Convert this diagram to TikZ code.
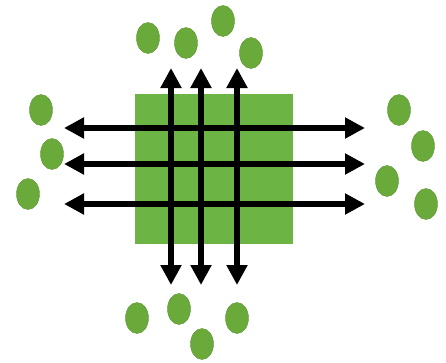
\documentclass[tikz,border=0pt]{standalone}
\usetikzlibrary{shapes.geometric, arrows.meta}
\definecolor{dotgreen}{RGB}{106,170,58}
\definecolor{dotedge}{RGB}{92,150,50}
\definecolor{blockgreen}{RGB}{108,180,68}
\tikzset{
  % scattered particle
  dot/.style={
    ellipse, minimum width=1.15cm, minimum height=1.55cm, inner sep=0pt,
    fill=dotgreen, draw=dotedge, line width=0.6pt
  },
  % central block
  block/.style={
    rectangle, minimum width=7.9cm, minimum height=7.5cm, inner sep=0pt,
    fill=blockgreen, draw=none
  },
  bothway/.style={{Triangle[length=1.0cm, width=1.0cm]}-{Triangle[length=1.0cm, width=1.0cm]},
    line width=0.28cm, black}
}
\begin{document}
\begin{tikzpicture}[x=0.05cm, y=-0.05cm]
  \useasboundingbox (0,0) rectangle (446,362);

  % central block
  \node[block] (core) at (214,169) {};

  % --- particles above ---
  \node[dot] (t1) at (148,38) {};
  \node[dot] (t2) at (186,43) {};
  \node[dot] (t3) at (223,21) {};
  \node[dot] (t4) at (251,53) {};

  % --- particles left ---
  \node[dot] (l1) at (41,110) {};
  \node[dot] (l2) at (52,154) {};
  \node[dot] (l3) at (28,194) {};

  % --- particles right ---
  \node[dot] (r1) at (399,110) {};
  \node[dot] (r2) at (423,146) {};
  \node[dot] (r3) at (387,181) {};
  \node[dot] (r4) at (426,204) {};

  % --- particles below ---
  \node[dot] (b1) at (137,318) {};
  \node[dot] (b2) at (179,309) {};
  \node[dot] (b3) at (202,344) {};
  \node[dot] (b4) at (237,318) {};

  % arrow ends
  \foreach \i/\y in {1/128, 2/164, 3/204} {
    \coordinate (w\i) at (64,\y);
    \coordinate (e\i) at (365,\y);
  }
  \foreach \i/\x in {1/171, 2/201, 3/237} {
    \coordinate (n\i) at (\x,68);
    \coordinate (s\i) at (\x,285);
  }

  % --- two-way arrows through the block ---
  \foreach \i in {1,2,3} {
    \draw[bothway] (w\i) -- (e\i);
  }
  \foreach \i in {1,2,3} {
    \draw[bothway] (n\i) -- (s\i);
  }
\end{tikzpicture}
\end{document}
